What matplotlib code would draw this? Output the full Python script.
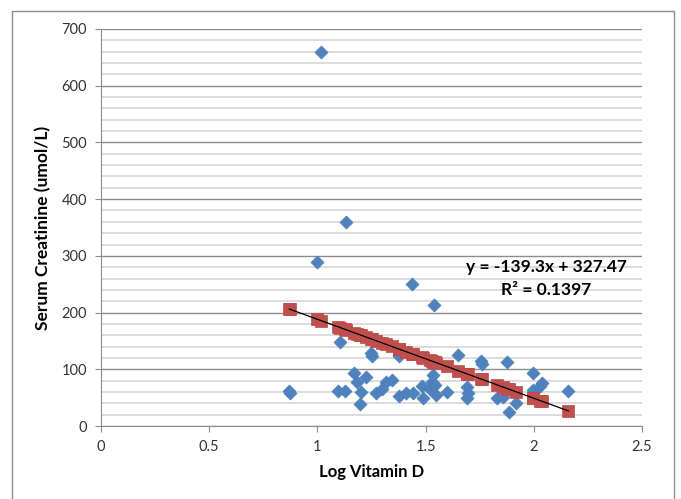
import matplotlib
matplotlib.use("Agg")
import matplotlib.pyplot as plt
from matplotlib.ticker import MultipleLocator
from matplotlib.patches import Rectangle

plt.rcParams['font.family'] = ['Lato', 'DejaVu Sans']

# log vitamin D (shared by observed and predicted series)
log_vit_d = [0.870, 0.872, 1.000, 1.018, 1.097, 1.106, 1.129, 1.131, 1.169, 1.181,
             1.197, 1.200, 1.225, 1.248, 1.252, 1.271, 1.297, 1.317, 1.343, 1.377,
             1.379, 1.409, 1.437, 1.440, 1.482, 1.490, 1.520, 1.528, 1.536, 1.537,
             1.543, 1.548, 1.597, 1.651, 1.690, 1.697, 1.690, 1.754, 1.760, 1.829,
             1.859, 1.878, 1.887, 1.918, 1.998, 1.998, 2.029, 2.036, 2.160]
# observed serum creatinine
creat = [62, 59, 289, 660, 62, 148, 62, 360, 93, 78,
         39, 60, 87, 129, 124, 59, 66, 78, 81, 124,
         53, 58, 250, 59, 71, 50, 66, 78, 90, 214,
         72, 55, 60, 125, 69, 58, 49, 115, 110, 49,
         52, 112, 25, 40, 93, 63, 70, 75, 62]
# predicted (trendline) values
creat_pred = [206.3, 206.0, 188.2, 185.7, 174.7, 173.4, 170.2, 169.9, 164.6, 163.0,
              160.7, 160.3, 156.8, 153.6, 153.1, 150.4, 146.8, 144.0, 140.4, 135.6,
              135.4, 131.2, 127.3, 126.9, 121.0, 119.9, 115.7, 114.6, 113.5, 113.4,
              112.5, 111.8, 105.0, 97.5, 92.1, 91.1, 92.1, 83.1, 82.3, 72.7,
              68.5, 65.9, 64.6, 60.3, 49.2, 49.2, 44.8, 43.9, 26.6]
trend_x = [0.870, 2.160]
trend_y = [206.3, 26.6]
x_ticks = [0, 0.5, 1, 1.5, 2, 2.5]
x_ticklabels = ['0', '0.5', '1', '1.5', '2', '2.5']
eq_text = 'y = -139.3x + 327.47'
r2_text = 'R² = 0.1397'

W, H = 681, 499
fig = plt.figure(figsize=(6.81, 4.99), dpi=100)

# chart area border
fig.patches.append(Rectangle((12 / W, -0.02), (674 - 12) / W, 1 - 11 / H + 0.02,
                             transform=fig.transFigure, fill=False,
                             edgecolor='#8c8c8c', lw=1.0))
# title (only its lowest edge shows at the top of the picture)
fig.text(628 / W, 1 + 3 / H, 'Serum Creatinine vs Vitamin D (n = 49, p = 0.008)',
         ha='right', va='baseline', fontsize=14, fontweight='bold')

ax = fig.add_axes([101 / W, 1 - 426 / H, (642 - 101) / W, (426 - 29) / H])

ax.scatter(log_vit_d, creat, marker='D', s=44, color='#4F81BD',
           edgecolor='#4A7EBB', linewidths=0.5, zorder=3)
ax.scatter(log_vit_d, creat_pred, marker='s', s=72, color='#C0504D',
           edgecolor='#BE4B48', linewidths=0.5, zorder=4)
ax.plot(trend_x, trend_y, color='black', lw=0.9, zorder=5)

ax.set_xlim(0, 2.5)
ax.set_ylim(0, 700)
ax.set_xticks(x_ticks, x_ticklabels)
ax.yaxis.set_major_locator(MultipleLocator(100))
ax.yaxis.set_minor_locator(MultipleLocator(20))

ax.set_axisbelow(True)
ax.grid(which='major', axis='y', color='#8c8c8c', lw=1.0)
ax.grid(which='minor', axis='y', color='#d9d9d9', lw=1.3)

for s in ['top', 'right']:
    ax.spines[s].set_visible(False)
for s in ['left', 'bottom']:
    ax.spines[s].set_color('#8c8c8c')
ax.tick_params(which='major', direction='out', length=4, color='#8c8c8c',
               labelsize=10.5, labelcolor='#333333', pad=6)
ax.tick_params(which='minor', length=0)

ax.set_xlabel('Log Vitamin D', fontsize=12, fontweight='bold', labelpad=7)
ax.set_ylabel('Serum Creatinine (umol/L)', fontsize=12.5, fontweight='bold', labelpad=7)

ax.text(546 / W, 1 - 267 / H, eq_text, transform=fig.transFigure,
        ha='center', va='center', fontsize=12.5, fontweight='bold')
ax.text(546 / W, 1 - 290 / H, r2_text, transform=fig.transFigure,
        ha='center', va='center', fontsize=12.5, fontweight='bold')

fig.savefig('out.png', dpi=100)
